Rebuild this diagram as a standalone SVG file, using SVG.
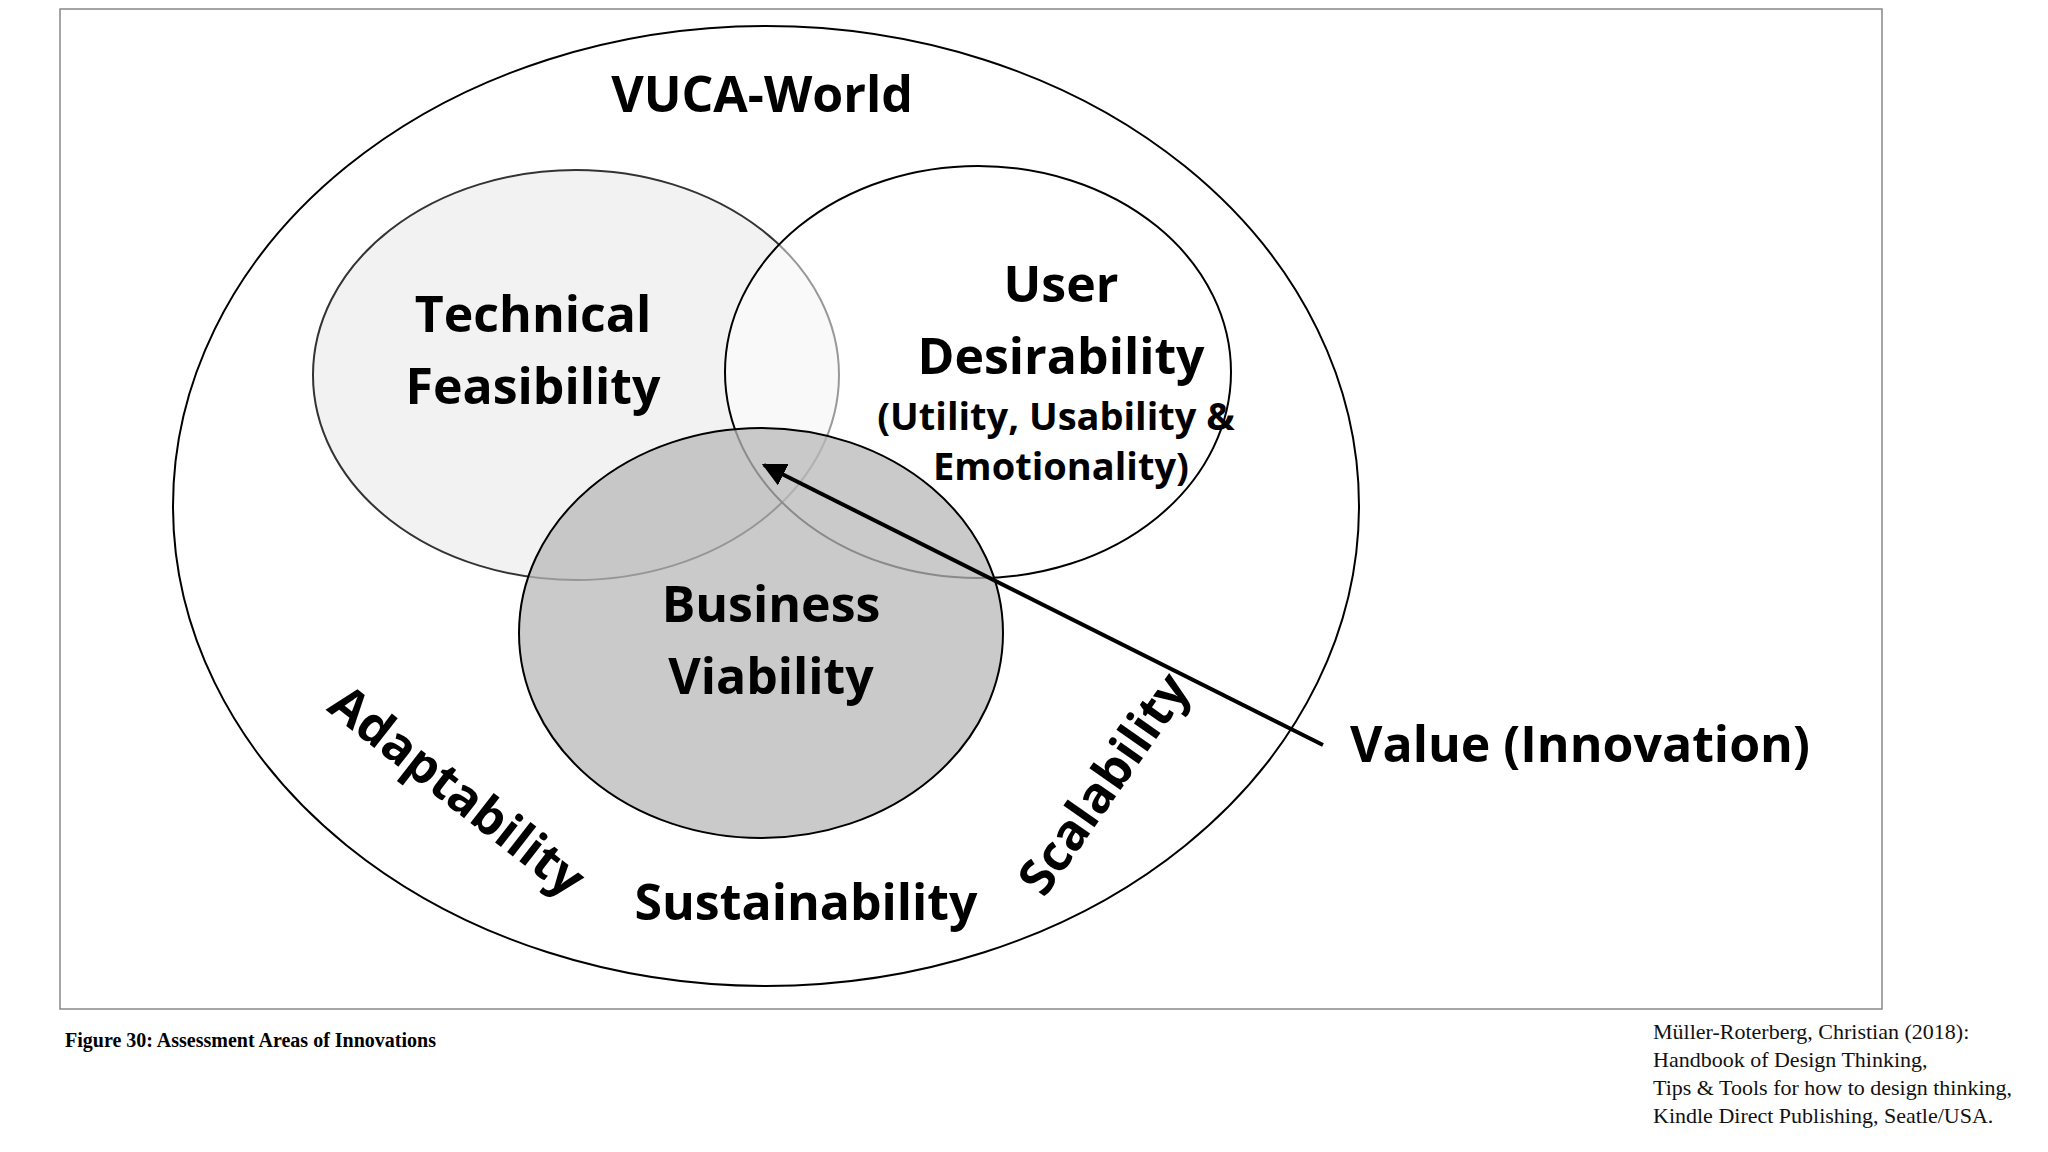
<svg xmlns="http://www.w3.org/2000/svg" width="2048" height="1152" viewBox="0 0 2048 1152">
<style>
.t{font-family:"Open Sans","Liberation Sans",sans-serif;font-weight:bold;fill:#000;text-anchor:middle}
.b{font-size:50px}
.s{font-size:38px}
.c{font-family:"Liberation Serif",serif;font-size:22px;fill:#111}
</style>
<defs><marker id="ah" viewBox="0 0 10 10" refX="9" refY="5" markerWidth="6" markerHeight="6" orient="auto"><path d="M0,0 L10,5 L0,10 z" fill="#000"/></marker></defs>
<rect width="2048" height="1152" fill="#fff"/>
<rect x="60" y="9" width="1822" height="1000" fill="none" stroke="#888" stroke-width="1.5"/>
<g id="vuca"><ellipse cx="766" cy="506" rx="593" ry="480" fill="none" stroke="#000" stroke-width="2"/>
<text class="t b" x="762" y="112">VUCA-World</text></g>
<g id="technical"><ellipse cx="576" cy="375" rx="263" ry="205" fill="#f2f2f2" stroke="#333" stroke-width="2"/></g>
<g id="user"><ellipse cx="978" cy="372" rx="253" ry="206" fill="#fff" fill-opacity="0.5" stroke="#000" stroke-width="2"/></g>
<g id="business"><ellipse cx="761" cy="633" rx="242" ry="205" fill="#b8b8b8" fill-opacity="0.75" stroke="#000" stroke-width="2"/>
<text class="t b" x="771" y="622">Business</text><text class="t b" x="771" y="694">Viability</text></g>
<g id="labels">
<text class="t b" x="533" y="332">Technical</text><text class="t b" x="533" y="404">Feasibility</text>
<text class="t b" x="1061" y="302">User</text><text class="t b" x="1061" y="374">Desirability</text>
<text class="t s" x="1056" y="430">(Utility, Usability &amp;</text><text class="t s" x="1061" y="480">Emotionality)</text>
<text class="t b" x="806" y="920">Sustainability</text>
<text class="t b" transform="translate(457,791) rotate(38)" y="17">Adaptability</text>
<text class="t b" transform="translate(1104,784) rotate(-55)" y="17">Scalability</text>
<text class="t b" x="1350" y="762" style="text-anchor:start">Value (Innovation)</text>
</g>
<g id="connectors"><line x1="1323" y1="745" x2="764" y2="465" stroke="#000" stroke-width="4" marker-end="url(#ah)"/></g>
<text x="65" y="1047" style="font-family:'Liberation Serif',serif;font-weight:bold;font-size:20px">Figure 30: Assessment Areas of Innovations</text>
<g class="c"><text class="c" x="1653" y="1039">Müller-Roterberg, Christian (2018):</text>
<text class="c" x="1653" y="1067">Handbook of Design Thinking,</text>
<text class="c" x="1653" y="1095">Tips &amp; Tools for how to design thinking,</text>
<text class="c" x="1653" y="1123">Kindle Direct Publishing, Seatle/USA.</text></g>
</svg>
